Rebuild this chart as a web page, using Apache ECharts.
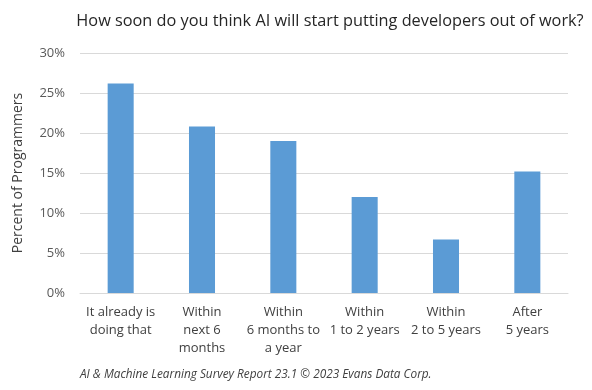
<!DOCTYPE html>
<html><head><meta charset="utf-8">
<script src="https://cdn.jsdelivr.net/npm/echarts@6/dist/echarts.min.js"></script>
<style>html,body{margin:0;padding:0;background:#fff}#c{width:592px;height:390px}</style>
</head><body><div id="c"></div>
<script>
const categories = ["It already is\ndoing that", "Within\nnext 6\nmonths", "Within\n6 months to\na year", "Within\n1 to 2 years", "Within\n2 to 5 years", "After\n5 years"];
const values = [26.2, 20.8, 19.0, 12.0, 6.7, 15.2];
const yTicks = [0, 5, 10, 15, 20, 25, 30];
const titleText = "How soon do you think AI will start putting developers out of work?";
const yAxisTitle = "Percent of Programmers";
const footerText = "AI & Machine Learning Survey Report 23.1 © 2023 Evans Data Corp.";

const chart = echarts.init(document.getElementById('c'), null, {renderer: 'canvas'});
chart.setOption({
  backgroundColor: '#ffffff',
  animation: false,
  title: [{
    text: titleText, left: 325, top: 8, textAlign: 'center',
    textStyle: {fontFamily: 'Open Sans', fontSize: 16.3, fontWeight: 'normal', color: '#262626'}
  }, {
    text: footerText, left: 75, top: 364,
    textStyle: {fontFamily: 'Open Sans', fontSize: 11.8, fontStyle: 'italic', fontWeight: 'normal', color: '#404040'}
  }],
  grid: {left: 80, right: 24, top: 53, bottom: 97},
  xAxis: {
    type: 'category', data: categories,
    axisLine: {lineStyle: {color: '#d9d9d9', width: 1}},
    axisTick: {show: false},
    axisLabel: {fontFamily: 'Open Sans', fontSize: 13, color: '#404040', lineHeight: 18, margin: 10, interval: 0}
  },
  yAxis: {
    type: 'value', min: yTicks[0], max: yTicks[yTicks.length-1], interval: 5,
    name: yAxisTitle, nameLocation: 'middle', nameGap: 55, nameRotate: 90,
    nameTextStyle: {fontFamily: 'Open Sans', fontSize: 14, color: '#404040'},
    axisLine: {show: false}, axisTick: {show: false},
    splitLine: {lineStyle: {color: '#d9d9d9', width: 1}},
    axisLabel: {fontFamily: 'Open Sans', fontSize: 13, color: '#595959', margin: 15, formatter: v => v + '%'}
  },
  series: [{
    type: 'bar', data: values, barWidth: '32%',
    itemStyle: {color: '#5b9bd5'}
  }]
});
</script></body></html>
